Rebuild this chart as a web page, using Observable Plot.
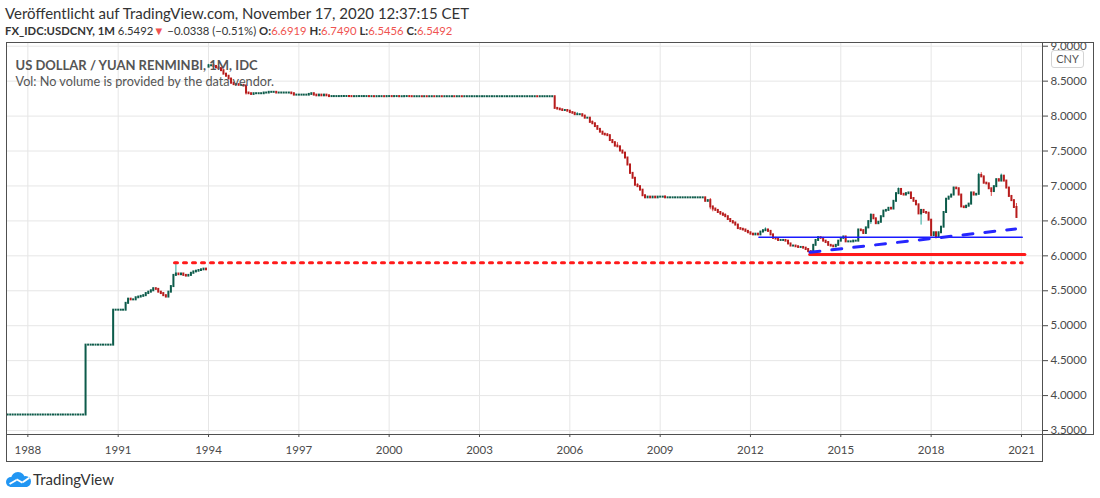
<!DOCTYPE html>
<html><head><meta charset="utf-8">
<script src="https://cdn.jsdelivr.net/npm/d3@7"></script>
<script src="https://cdn.jsdelivr.net/npm/@observablehq/plot@0.6"></script>
<style>
body{margin:0;background:#fff;}
#page{position:relative;width:1100px;height:498px;overflow:hidden;font-family:Lato,"Open Sans",sans-serif;color:#333;}
.hl{position:absolute;left:5px;white-space:pre;}
.ln{position:absolute;background:#505050;}
#chart{position:absolute;left:0;top:42px;}
.r{color:#ef5350}
b{font-weight:700}
#cny{position:absolute;left:1051px;top:50px;width:31px;height:16px;border:1px solid #d4d4d4;border-radius:3px;font-size:11px;line-height:16px;text-align:center;color:#555;background:#fff;}
.cl{position:absolute;border-radius:50%;background:#2196f3;}
#tv{position:absolute;left:33px;top:470px;font-size:15px;line-height:18px;color:#333;}
</style></head><body><div id="page">
<div class="hl" style="top:4px;font-size:15px;line-height:18px">Veröffentlicht auf TradingView.com, November 17, 2020 12:37:15 CET</div>
<div class="hl" style="top:24px;font-size:11.3px;line-height:14px"><b>FX_IDC:USDCNY, 1M</b> 6.5492<span class="r">▼</span> −0.0338 (−0.51%) <b>O:</b><span class="r">6.6919</span> <b>H:</b><span class="r">6.7490</span> <b>L:</b><span class="r">6.5456</span> <b>C:</b><span class="r">6.5492</span></div>
<div id="chart"></div>
<div class="ln" style="left:6px;top:42px;width:1088px;height:1px"></div>
<div class="ln" style="left:6px;top:42px;width:1px;height:420px"></div>
<div class="ln" style="left:6px;top:434px;width:1088px;height:1px"></div>
<div class="ln" style="left:1042px;top:42px;width:1px;height:420px"></div>
<div class="ln" style="left:6px;top:461px;width:1037px;height:1px"></div>
<div class="ln" style="left:1093px;top:42px;width:1px;height:393px"></div>
<div id="cny">CNY</div>
<div style="position:absolute;left:6px;top:472px;width:26px;height:15px">
  <div class="cl" style="left:0;top:5px;width:10px;height:10px"></div>
  <div class="cl" style="left:5px;top:0;width:14px;height:14px"></div>
  <div class="cl" style="left:14px;top:4px;width:11px;height:11px"></div>
  <div style="position:absolute;left:4px;top:8px;width:17px;height:7px;background:#2196f3"></div>
  <div style="position:absolute;left:3px;top:9px;width:8px;height:2px;background:#fff;transform:rotate(-30deg)"></div>
  <div style="position:absolute;left:10px;top:8px;width:7px;height:2px;background:#fff;transform:rotate(30deg)"></div>
  <div style="position:absolute;left:16px;top:7px;width:8px;height:2px;background:#fff;transform:rotate(-35deg)"></div>
</div>
<div id="tv">TradingView</div>
</div>
<script>
// Monthly closes
const c1987 = [3.7221,3.7221,3.7221,3.7221,3.7221,3.7221,3.7221,3.7221]; // May-Dec
const c1988 = [3.7221,3.7221,3.7221,3.7221,3.7221,3.7221,3.7221,3.7221,3.7221,3.7221,3.7221,3.7221];
const c1989 = [3.7221,3.7221,3.7221,3.7221,3.7221,3.7221,3.7221,3.7221,3.7221,3.7221,3.7221,4.7221];
const c1990 = [4.7221,4.7221,4.7221,4.7221,4.7221,4.7221,4.7221,4.7221,4.7221,4.7221,5.2221,5.2221];
const c1991 = [5.2221,5.2221,5.2221,5.32,5.38,5.37,5.37,5.40,5.41,5.42,5.43,5.46];
const c1992 = [5.48,5.50,5.53,5.52,5.48,5.46,5.43,5.41,5.48,5.56,5.72,5.74];
const c1993 = [5.73,5.74,5.72,5.71,5.72,5.75,5.77,5.78,5.79,5.80,5.81,5.80];
const c1994 = [8.72,8.72,8.71,8.69,8.68,8.65,8.60,8.57,8.53,8.47,8.45,8.45];
const c1995 = [8.44,8.44,8.43,8.33,8.32,8.31,8.32,8.32,8.32,8.32,8.33,8.33];
const c1996 = [8.34,8.34,8.34,8.33,8.33,8.33,8.33,8.33,8.33,8.32,8.30,8.30];
const c1997 = [8.30,8.30,8.30,8.30,8.31,8.32,8.30,8.29,8.30,8.29,8.30,8.29];
const c1998 = [8.279,8.279,8.279,8.279,8.279,8.280,8.280,8.280,8.279,8.278,8.278,8.279];
const c1999 = [8.279,8.279,8.279,8.279,8.278,8.278,8.277,8.278,8.278,8.278,8.277,8.279];
const c2000 = [8.279,8.278,8.279,8.279,8.277,8.277,8.279,8.279,8.278,8.277,8.277,8.277];
const c2001 = [8.277,8.2768,8.277,8.2768,8.277,8.277,8.2768,8.277,8.277,8.2768,8.277,8.277];
const c2002 = [8.277,8.277,8.2768,8.277,8.277,8.2768,8.277,8.277,8.277,8.277,8.277,8.277];
const c2003 = [8.277,8.277,8.277,8.277,8.277,8.277,8.277,8.277,8.277,8.277,8.277,8.277];
const c2004 = [8.277,8.277,8.277,8.277,8.277,8.277,8.277,8.277,8.277,8.277,8.277,8.2765];
const c2005 = [8.277,8.277,8.277,8.277,8.277,8.277,8.11,8.10,8.09,8.08,8.08,8.07];
const c2006 = [8.05,8.04,8.02,8.02,8.02,8.00,7.97,7.97,7.91,7.89,7.85,7.81];
const c2007 = [7.77,7.74,7.73,7.72,7.65,7.62,7.57,7.56,7.50,7.47,7.40,7.30];
const c2008 = [7.18,7.11,7.01,6.99,6.94,6.86,6.83,6.84,6.83,6.84,6.83,6.84];
const c2009 = [6.84,6.84,6.83,6.83,6.83,6.83,6.83,6.83,6.83,6.83,6.83,6.83];
const c2010 = [6.83,6.83,6.83,6.83,6.83,6.83,6.78,6.79,6.70,6.67,6.65,6.62];
const c2011 = [6.60,6.58,6.56,6.52,6.49,6.47,6.44,6.39,6.38,6.37,6.35,6.33];
const c2012 = [6.31,6.30,6.31,6.30,6.34,6.36,6.37,6.35,6.30,6.25,6.24,6.22];
const c2013 = [6.22,6.22,6.21,6.17,6.14,6.14,6.13,6.12,6.12,6.11,6.09,6.06];
const c2014 = [6.05,6.15,6.22,6.26,6.25,6.21,6.19,6.15,6.14,6.13,6.15,6.21];
const c2015 = [6.25,6.27,6.20,6.20,6.20,6.21,6.21,6.37,6.36,6.32,6.40,6.49];
const c2016 = [6.58,6.53,6.46,6.48,6.56,6.64,6.65,6.68,6.67,6.78,6.89,6.95];
const c2017 = [6.88,6.87,6.89,6.90,6.82,6.78,6.73,6.60,6.65,6.62,6.61,6.51];
const c2018 = [6.29,6.33,6.27,6.33,6.41,6.62,6.81,6.84,6.87,6.97,6.96,6.87];
const c2019 = [6.70,6.69,6.71,6.74,6.90,6.87,6.88,7.15,7.13,7.04,7.03,6.96];
const c2020 = [6.92,6.99,7.09,7.07,7.14,7.07,6.97,6.85,6.79,6.6919,6.5492]; // Jan-Nov

const yearSeries = [
  [1987,4,c1987],[1988,0,c1988],[1989,0,c1989],[1990,0,c1990],[1991,0,c1991],[1992,0,c1992],
  [1993,0,c1993],[1994,0,c1994],[1995,0,c1995],[1996,0,c1996],[1997,0,c1997],[1998,0,c1998],
  [1999,0,c1999],[2000,0,c2000],[2001,0,c2001],[2002,0,c2002],[2003,0,c2003],[2004,0,c2004],
  [2005,0,c2005],[2006,0,c2006],[2007,0,c2007],[2008,0,c2008],[2009,0,c2009],[2010,0,c2010],
  [2011,0,c2011],[2012,0,c2012],[2013,0,c2013],[2014,0,c2014],[2015,0,c2015],[2016,0,c2016],
  [2017,0,c2017],[2018,0,c2018],[2019,0,c2019],[2020,0,c2020]
];
// opens where the series restarts
const segmentOpens = [["1987-05",3.7221],["1994-01",8.70]];
// intramonth extremes visible as wicks
const wickHighs = [["1992-12",5.91],["1994-01",8.74],["2006-04",8.05],["2006-10",7.93],["2007-04",7.75],
  ["2007-08",7.62],["2007-11",7.48],["2008-01",7.31],["2008-04",7.03],["2009-03",6.86],["2010-09",6.82],
  ["2011-03",6.60],["2011-08",6.45],["2012-07",6.40],["2012-09",6.36],["2016-01",6.60],["2016-12",6.97],
  ["2018-10",6.98],["2019-08",7.18],["2019-09",7.19],["2020-05",7.17],["2020-11",6.7490]];
const wickLows = [["1995-04",8.30],["2010-09",6.66],["2010-10",6.63],["2011-01",6.58],["2014-01",6.04],
  ["2016-01",6.45],["2017-09",6.44],["2018-03",6.24],["2019-10",7.03],["2020-01",6.85],["2020-11",6.5456]];

// drawn levels
const dottedLevel = 5.9, dottedSpan = ["1992-11-14","2021-01-10"];
const redLevel = 6.02, redSpan = ["2013-12-20","2021-02-11"];
const blueLevel = 6.265, blueSpan = ["2012-04-13","2021-01-10"];
const trendPoints = [["2013-12-23",6.05],["2020-10-21",6.385]];

const yearTicks = [1988,1991,1994,1997,2000,2003,2006,2009,2012,2015,2018,2021];
const priceTicks = [3.5,4.0,4.5,5.0,5.5,6.0,6.5,7.0,7.5,8.0,8.5,9.0];
const headline = "US DOLLAR / YUAN RENMINBI, 1M, IDC";
const volNote = "Vol: No volume is provided by the data vendor.";

const parse = d3.utcParse("%Y-%m-%d");
const key = d3.utcFormat("%Y-%m");
const openMap = new Map(segmentOpens);
const hiMap = new Map(wickHighs), loMap = new Map(wickLows);
const rows = [];
let prev = null;
for (const [yr, m0, arr] of yearSeries) {
  arr.forEach((c, i) => {
    const date = new Date(Date.UTC(yr, m0 + i, 1));
    const k = key(date);
    const open = openMap.has(k) ? openMap.get(k) : prev;
    let high = Math.max(open, c), low = Math.min(open, c);
    if (hiMap.has(k)) high = Math.max(high, hiMap.get(k));
    if (loMap.has(k)) low = Math.min(low, loMap.get(k));
    rows.push({date, open, close: c, high, low, up: c >= open});
    prev = c;
  });
}
const seg = (lvl, span) => span.map(s => ({date: parse(s), v: lvl}));
const trend = trendPoints.map(([s, v]) => ({date: parse(s), v}));

const GREEN = "#0d5b4a", RED = "#b71c1c", WG = "#26a69a", WR = "#e04848";

const chart = Plot.plot({
  width: 1100, height: 420,
  marginLeft: 6, marginRight: 58, marginTop: 0, marginBottom: 28,
  style: {fontFamily: "Lato, 'Open Sans', sans-serif", fontSize: "11.5px", color: "#4a4a4a", background: "transparent", overflow: "hidden"},
  x: {type: "utc", domain: [new Date(Date.UTC(1987,3,17)), new Date(Date.UTC(2021,8,13))],
      ticks: yearTicks.map(y => new Date(Date.UTC(y,0,1))), tickFormat: d3.utcFormat("%Y"),
      tickSize: 3, tickPadding: 8, label: null},
  y: {domain: [3.443, 9.053], axis: "right", ticks: priceTicks, tickFormat: d => d.toFixed(4),
      tickSize: 5, tickPadding: 3, label: null},
  marks: [
    Plot.ruleX(yearTicks.map(y => new Date(Date.UTC(y,0,1))), {stroke: "#e6e6e6"}),
    Plot.ruleY(priceTicks, {stroke: "#e6e6e6"}),
    Plot.ruleX(rows.filter(d => d.up), {x: "date", y1: "low", y2: "high", stroke: WG, strokeWidth: 1}),
    Plot.ruleX(rows.filter(d => !d.up), {x: "date", y1: "low", y2: "high", stroke: WR, strokeWidth: 1}),
    Plot.ruleX(rows.filter(d => d.up), {x: "date", y1: "open", y2: "close", stroke: GREEN, strokeWidth: 2, strokeLinecap: "square"}),
    Plot.ruleX(rows.filter(d => !d.up), {x: "date", y1: "open", y2: "close", stroke: RED, strokeWidth: 2, strokeLinecap: "square"}),
    Plot.line(seg(dottedLevel, dottedSpan), {x: "date", y: "v", stroke: "#ff1a1a", strokeWidth: 3, strokeDasharray: "3,6"}),
    Plot.line(seg(redLevel, redSpan), {x: "date", y: "v", stroke: "#ff1a1a", strokeWidth: 3}),
    Plot.line(seg(blueLevel, blueSpan), {x: "date", y: "v", stroke: "#1a1aff", strokeWidth: 1.5}),
    Plot.line(trend, {x: "date", y: "v", stroke: "#2626ff", strokeWidth: 3, strokeDasharray: "10,12"}),
    Plot.text([headline], {text: d => d, frameAnchor: "top-left", dx: 9, dy: 18.5, textAnchor: "start", fontWeight: "bold", fontSize: 13, fill: "#555"}),
    Plot.text([volNote], {text: d => d, frameAnchor: "top-left", dx: 9, dy: 34.5, textAnchor: "start", fontSize: 12.7, fill: "#555"})
  ]
});
document.getElementById("chart").appendChild(chart);
</script>
</body></html>
